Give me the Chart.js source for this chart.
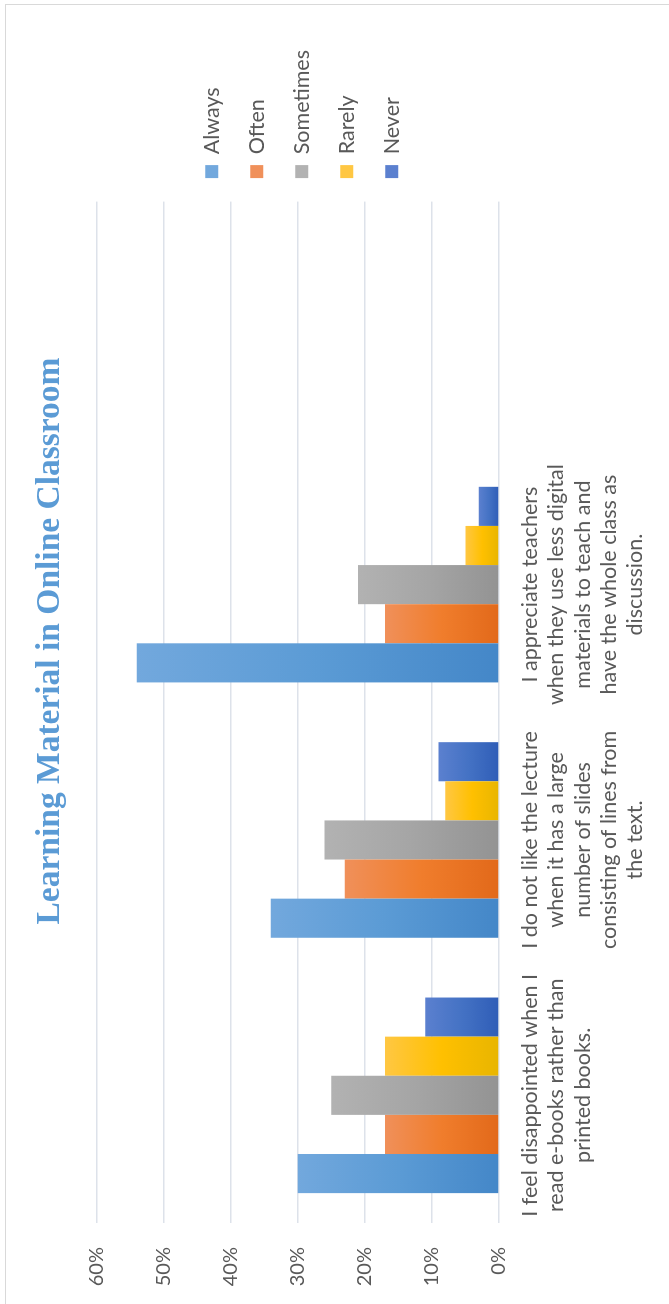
<!DOCTYPE html>
<html>
<head>
<meta charset="utf-8">
<title>Learning Material in Online Classroom</title>
<script src="https://cdn.jsdelivr.net/npm/chart.js@4.4.1/dist/chart.umd.min.js"></script>
<style>
  html, body { margin: 0; padding: 0; background: #fff; overflow: hidden; }
  body { width: 669px; height: 1304px; position: relative; }
  /* the chart is drawn landscape and turned a quarter left, like the source */
  #wrap {
    position: absolute; left: 0; top: 0;
    width: 1304px; height: 669px;
    transform-origin: 0 0;
    transform: translateY(1304px) rotate(-90deg);
  }
  #frame {
    position: absolute; left: -2px; top: 5px; right: 4px; bottom: -2px;
    border: 1px solid #d9d9d9;
  }
  #title {
    position: absolute; left: 0; top: 28px; width: 1326px;
    text-align: center; white-space: nowrap;
    font: bold 33.5px/40px "Liberation Serif", serif;
    color: #5b9bd5;
  }
  canvas { position: absolute; left: 0; top: 0; }
</style>
</head>
<body>
<div id="wrap">
  <div id="frame"></div>
  <canvas id="chart" width="1304" height="669"></canvas>
  <div id="title">Learning Material in Online Classroom</div>
</div>
<script>
// Survey statements (the last slot is an empty category in the source chart)
const statements = [
  ["I feel disappointed when I", "read e-books rather than", "printed books."],
  ["I do not like the lecture", "when it has a large", "number of slides", "consisting of lines from", "the text."],
  ["I appreciate teachers", "when they use less digital", "materials to teach and", "have the whole class as", "discussion."],
  ""
];

// Percent of answers per statement
const always    = [30, 34, 54, null];
const often     = [17, 23, 17, null];
const sometimes = [25, 26, 21, null];
const rarely    = [17, 8, 5, null];
const never     = [11, 9, 3, null];

const yTicks = [0, 10, 20, 30, 40, 50, 60];

const textColor = '#595959';
const gridColor = '#dde2ea';
const sans = 'Lato';

// light-to-dark shading along each bar, like the Office gradient fill
function shaded(light, mid, dark) {
  return ctx => {
    const chart = ctx.chart;
    if (!chart.chartArea || ctx.type !== 'data' || ctx.raw == null) return mid;
    const y = chart.scales.y;
    const top = y.getPixelForValue(ctx.raw);
    const base = y.getPixelForValue(0);
    if (!isFinite(top) || Math.abs(base - top) < 1) return mid;
    const g = chart.ctx.createLinearGradient(0, top, 0, base);
    g.addColorStop(0, light);
    g.addColorStop(0.5, mid);
    g.addColorStop(1, dark);
    return g;
  };
}

const series = [
  { label: 'Always',    data: always,    fill: ['#72a8dd', '#5b9bd5', '#4487c8'] },
  { label: 'Often',     data: often,     fill: ['#f0905a', '#f07d2c', '#e2691a'] },
  { label: 'Sometimes', data: sometimes, fill: ['#b2b2b2', '#a5a5a5', '#939393'] },
  { label: 'Rarely',    data: rarely,    fill: ['#ffc743', '#ffc000', '#e8b500'] },
  { label: 'Never',     data: never,     fill: ['#5b80cf', '#4472c4', '#2f5db7'] }
];

new Chart(document.getElementById('chart'), {
  type: 'bar',
  data: {
    labels: statements,
    datasets: series.map(s => ({
      label: s.label,
      data: s.data,
      backgroundColor: shaded(s.fill[0], s.fill[1], s.fill[2]),
      borderWidth: 0,
      categoryPercentage: 0.766,
      barPercentage: 1
    }))
  },
  options: {
    responsive: false,
    animation: false,
    devicePixelRatio: 1,
    // top space is left for the title, which sits in the page above the canvas
    layout: { padding: { left: 0, right: 40, top: 96.4, bottom: 0 } },
    plugins: {
      legend: {
        position: 'right',
        fullSize: false,
        // empty title only nudges the items down a little
        title: { display: true, text: '', font: { size: 1, lineHeight: 1 }, padding: { top: 0, bottom: 7 } },
        labels: {
          color: textColor,
          font: { family: sans, size: 21.5 },
          boxWidth: 13,
          boxHeight: 13,
          padding: 23.5
        }
      },
      tooltip: { enabled: false }
    },
    scales: {
      x: {
        grid: { display: false, drawTicks: false },
        border: { display: false },
        ticks: {
          color: textColor,
          font: { family: sans, size: 21.5, lineHeight: 1.23 },
          padding: 17.5,
          maxRotation: 0,
          autoSkip: false
        },
        afterFit: s => { s.height = 170; }
      },
      y: {
        min: 0,
        max: 60,
        afterBuildTicks: s => { s.ticks = yTicks.map(v => ({ value: v })); },
        grid: { color: gridColor, lineWidth: 1.5, drawTicks: false },
        border: { display: false },
        ticks: {
          color: textColor,
          font: { family: sans, size: 20 },
          padding: 24,
          callback: v => v + '%'
        },
        afterFit: s => { s.width = 81; }
      }
    }
  }
});
</script>
</body>
</html>
